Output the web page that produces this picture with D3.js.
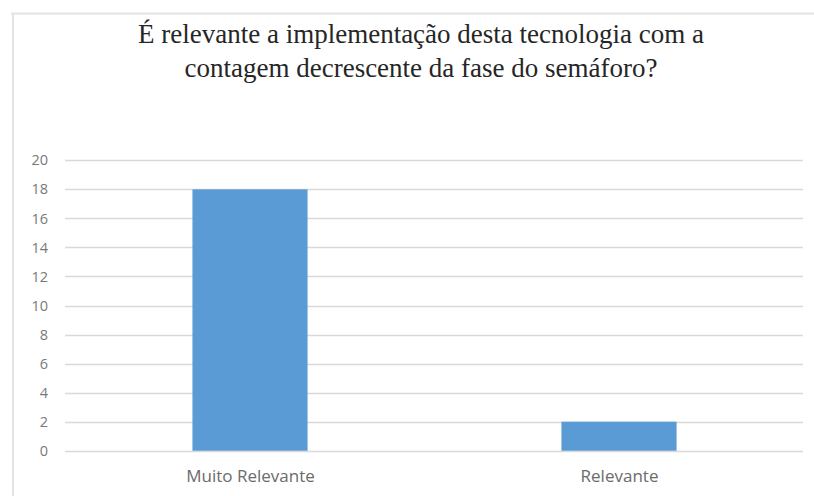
<!DOCTYPE html>
<html><head><meta charset="utf-8">
<script src="https://cdn.jsdelivr.net/npm/d3@7"></script>
<style>body{margin:0;background:#fff}svg{display:block}</style>
</head><body>
<script>
const categories = ["Muito Relevante", "Relevante"];
const values = [18, 2];
const yTicks = [0, 2, 4, 6, 8, 10, 12, 14, 16, 18, 20];
const titleLines = ["É relevante a implementação desta tecnologia com a", "contagem decrescente da fase do semáforo?"];

const W = 814, H = 496;
const svg = d3.select("body").append("svg").attr("width", W).attr("height", H);

// chart frame
svg.append("line").attr("x1", 11).attr("x2", W).attr("y1", 13.5).attr("y2", 13.5).attr("stroke", "#e3e3e3").attr("stroke-width", 2);
svg.append("line").attr("x1", 13).attr("x2", 13).attr("y1", 13).attr("y2", H).attr("stroke", "#e3e3e3").attr("stroke-width", 2);

const plot = {left: 67, right: 805, top: 160.3, bottom: 450.75};
const x = d3.scaleBand().domain(categories).range([plot.left, plot.right]).paddingInner(0).paddingOuter(0);
const y = d3.scaleLinear().domain([0, 20]).range([plot.bottom, plot.top]);

// gridlines
svg.append("g").selectAll("line").data(yTicks).join("line")
  .attr("x1", plot.left - 2).attr("x2", plot.right - 2)
  .attr("y1", d => Math.round(y(d)) + 0.5).attr("y2", d => Math.round(y(d)) + 0.5)
  .attr("stroke", "#d9d9d9").attr("stroke-width", 1.5);

// y axis labels
const yAxis = d3.axisLeft(y).tickValues(yTicks).tickSize(0).tickPadding(0);
const gy = svg.append("g").attr("transform", `translate(48,0)`).call(yAxis);
gy.select(".domain").remove();
gy.selectAll("text").attr("font-family", "Open Sans, Liberation Sans, sans-serif").attr("font-size", 14.5).attr("fill", "#7a7a7a");

// bars
const barW = x.bandwidth() * 0.312;
svg.append("g").selectAll("rect").data(categories).join("rect")
  .attr("x", d => x(d) + x.bandwidth() / 2 - barW / 2 - 1.5)
  .attr("width", barW)
  .attr("y", (d, i) => y(values[i]))
  .attr("height", (d, i) => y(0) - y(values[i]))
  .attr("fill", "#5b9bd5");

// x axis labels
const xAxis = d3.axisBottom(x).tickSize(0).tickPadding(0);
const gx = svg.append("g").attr("transform", `translate(0,482)`).call(xAxis);
gx.select(".domain").remove();
gx.selectAll("text").attr("font-family", "Open Sans, Liberation Sans, sans-serif").attr("font-size", 17).attr("fill", "#6b6b6b").attr("dy", "0").attr("dx", "-1");

// title
svg.append("g").selectAll("text").data(titleLines).join("text")
  .attr("x", 421).attr("y", (d, i) => 43 + i * 34)
  .attr("text-anchor", "middle")
  .attr("font-family", "Liberation Serif, Times New Roman, serif")
  .attr("font-size", 27).attr("fill", "#262626")
  .text(d => d);
</script>
</body></html>
